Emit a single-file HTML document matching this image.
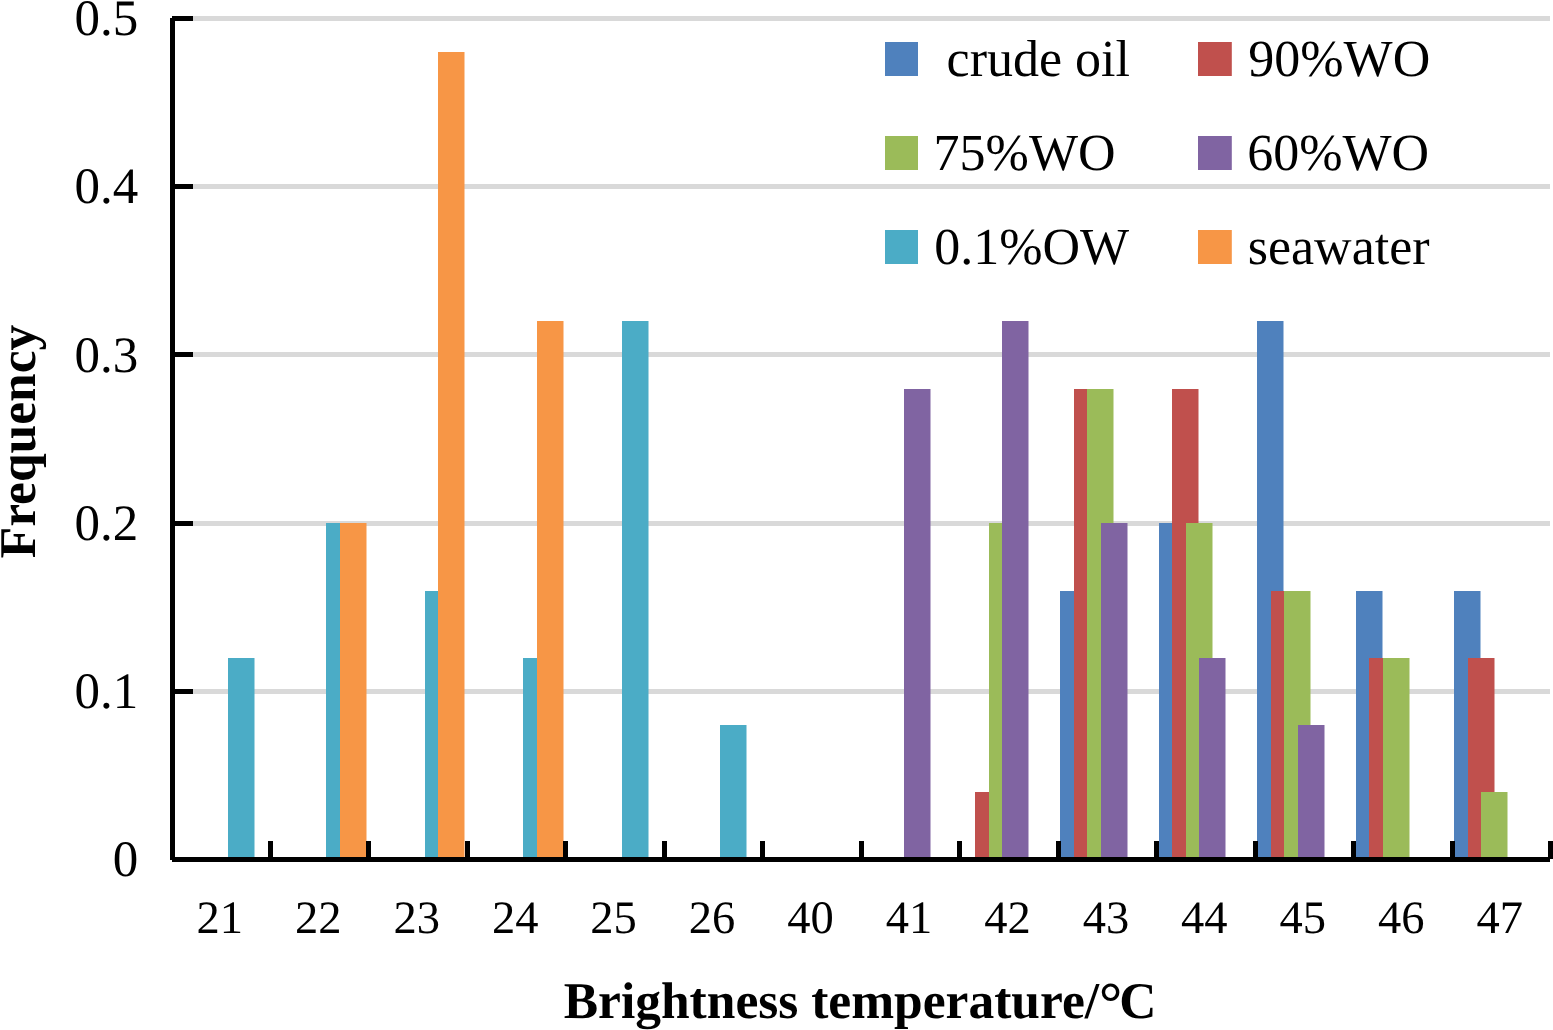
<!DOCTYPE html>
<html><head><meta charset="utf-8"><title>Frequency of brightness temperature</title>
<style>
html,body{margin:0;padding:0;background:#fff;}
body{width:1553px;height:1030px;overflow:hidden;}
svg{display:block;position:absolute;left:0;top:0;}
text{text-rendering:geometricPrecision;font-family:"Liberation Serif","Times New Roman",serif;fill:#000;white-space:pre;}
.yl{font-size:51px;}
.xl{font-size:46.5px;}
.lg{font-size:52px;}
.t{font-size:51.5px;font-weight:bold;}
</style></head><body>
<svg width="1553" height="1030" viewBox="0 0 1553 1030">
<rect x="0" y="0" width="1553" height="1030" fill="#fff"/>
<g fill="#D9D9D9">
<rect x="193" y="689" width="1357" height="5"/>
<rect x="193" y="521" width="1357" height="5"/>
<rect x="193" y="352" width="1357" height="5"/>
<rect x="193" y="184" width="1357" height="5"/>
<rect x="193" y="16" width="1357" height="5"/>
</g>
<g fill="#4F81BD">
<rect x="1060" y="591" width="26.5" height="269"/>
<rect x="1159" y="523" width="26.5" height="337"/>
<rect x="1257" y="321" width="26.5" height="539"/>
<rect x="1356" y="591" width="26.5" height="269"/>
<rect x="1454" y="591" width="26.5" height="269"/>
</g>
<g fill="#C0504D">
<rect x="975" y="792" width="26.5" height="68"/>
<rect x="1074" y="389" width="26.5" height="471"/>
<rect x="1172" y="389" width="26.5" height="471"/>
<rect x="1271" y="591" width="26.5" height="269"/>
<rect x="1369" y="658" width="26.5" height="202"/>
<rect x="1468" y="658" width="26.5" height="202"/>
</g>
<g fill="#9BBB59">
<rect x="989" y="523" width="26.5" height="337"/>
<rect x="1087" y="389" width="26.5" height="471"/>
<rect x="1186" y="523" width="26.5" height="337"/>
<rect x="1284" y="591" width="26.5" height="269"/>
<rect x="1383" y="658" width="26.5" height="202"/>
<rect x="1481" y="792" width="26.5" height="68"/>
</g>
<g fill="#8064A2">
<rect x="904" y="389" width="26.5" height="471"/>
<rect x="1002" y="321" width="26.5" height="539"/>
<rect x="1101" y="523" width="26.5" height="337"/>
<rect x="1199" y="658" width="26.5" height="202"/>
<rect x="1298" y="725" width="26.5" height="135"/>
</g>
<g fill="#4BACC6">
<rect x="228" y="658" width="26.5" height="202"/>
<rect x="326" y="523" width="26.5" height="337"/>
<rect x="425" y="591" width="26.5" height="269"/>
<rect x="523" y="658" width="26.5" height="202"/>
<rect x="622" y="321" width="26.5" height="539"/>
<rect x="720" y="725" width="26.5" height="135"/>
</g>
<g fill="#F79646">
<rect x="340" y="523" width="26.5" height="337"/>
<rect x="438" y="52" width="26.5" height="808"/>
<rect x="537" y="321" width="26.5" height="539"/>
</g>
<g fill="#000">
<rect x="170" y="18" width="5" height="842"/>
<rect x="172" y="857" width="1378" height="5"/>
<rect x="172" y="857" width="21" height="5"/>
<rect x="172" y="689" width="21" height="5"/>
<rect x="172" y="521" width="21" height="5"/>
<rect x="172" y="352" width="21" height="5"/>
<rect x="172" y="184" width="21" height="5"/>
<rect x="172" y="16" width="21" height="5"/>
<rect x="268" y="841" width="5" height="18"/>
<rect x="366" y="841" width="5" height="18"/>
<rect x="465" y="841" width="5" height="18"/>
<rect x="563" y="841" width="5" height="18"/>
<rect x="662" y="841" width="5" height="18"/>
<rect x="760" y="841" width="5" height="18"/>
<rect x="859" y="841" width="5" height="18"/>
<rect x="957" y="841" width="5" height="18"/>
<rect x="1056" y="841" width="5" height="18"/>
<rect x="1154" y="841" width="5" height="18"/>
<rect x="1253" y="841" width="5" height="18"/>
<rect x="1351" y="841" width="5" height="18"/>
<rect x="1450" y="841" width="5" height="18"/>
<rect x="1548" y="841" width="5" height="18"/>
</g>
<rect x="885" y="42" width="33" height="34" fill="#4F81BD"/>
<rect x="1198" y="42" width="33.8" height="34" fill="#C0504D"/>
<rect x="885" y="136" width="33" height="34" fill="#9BBB59"/>
<rect x="1198" y="136" width="33.8" height="34" fill="#8064A2"/>
<rect x="885" y="230" width="33" height="34" fill="#4BACC6"/>
<rect x="1198" y="230" width="33.8" height="34" fill="#F79646"/>
<text id="y0" class="yl" x="138.30" y="876.20" text-anchor="end" xml:space="preserve">0</text>
<text id="y1" class="yl" x="138.30" y="708.00" text-anchor="end" xml:space="preserve">0.1</text>
<text id="y2" class="yl" x="138.30" y="539.80" text-anchor="end" xml:space="preserve">0.2</text>
<text id="y3" class="yl" x="138.30" y="371.60" text-anchor="end" xml:space="preserve">0.3</text>
<text id="y4" class="yl" x="138.30" y="203.40" text-anchor="end" xml:space="preserve">0.4</text>
<text id="y5" class="yl" x="138.30" y="34.80" text-anchor="end" xml:space="preserve">0.5</text>
<text id="x0" class="xl" x="219.77" y="932.80" text-anchor="middle" xml:space="preserve">21</text>
<text id="x1" class="xl" x="318.23" y="932.80" text-anchor="middle" xml:space="preserve">22</text>
<text id="x2" class="xl" x="416.69" y="932.80" text-anchor="middle" xml:space="preserve">23</text>
<text id="x3" class="xl" x="515.15" y="932.80" text-anchor="middle" xml:space="preserve">24</text>
<text id="x4" class="xl" x="613.61" y="932.80" text-anchor="middle" xml:space="preserve">25</text>
<text id="x5" class="xl" x="712.07" y="932.80" text-anchor="middle" xml:space="preserve">26</text>
<text id="x6" class="xl" x="810.53" y="932.80" text-anchor="middle" xml:space="preserve">40</text>
<text id="x7" class="xl" x="908.99" y="932.80" text-anchor="middle" xml:space="preserve">41</text>
<text id="x8" class="xl" x="1007.45" y="932.80" text-anchor="middle" xml:space="preserve">42</text>
<text id="x9" class="xl" x="1105.91" y="932.80" text-anchor="middle" xml:space="preserve">43</text>
<text id="x10" class="xl" x="1204.37" y="932.80" text-anchor="middle" xml:space="preserve">44</text>
<text id="x11" class="xl" x="1302.83" y="932.80" text-anchor="middle" xml:space="preserve">45</text>
<text id="x12" class="xl" x="1401.29" y="932.80" text-anchor="middle" xml:space="preserve">46</text>
<text id="x13" class="xl" x="1499.75" y="932.80" text-anchor="middle" xml:space="preserve">47</text>
<text id="l0" class="lg" x="933.60" y="76.20" xml:space="preserve"> crude oil</text>
<text id="l1" class="lg" x="1248.30" y="76.20" xml:space="preserve">90%WO</text>
<text id="l2" class="lg" x="933.60" y="170.40" xml:space="preserve">75%WO</text>
<text id="l3" class="lg" x="1247.20" y="170.40" xml:space="preserve">60%WO</text>
<text id="l4" class="lg" x="934.20" y="264.20" xml:space="preserve">0.1%OW</text>
<text id="l5" class="lg" x="1247.70" y="264.20" xml:space="preserve">seawater</text>
<text id="xt" class="t" x="563.70" y="1017.70" xml:space="preserve">Brightness temperature/<tspan font-size="58px" dy="4">°</tspan><tspan dy="-4" dx="-3">C</tspan></text>
<text id="yt" class="t" x="0.00" y="0.00" transform="translate(34.8,558.3) rotate(-90)" xml:space="preserve">Frequency</text>
</svg>
</body></html>
